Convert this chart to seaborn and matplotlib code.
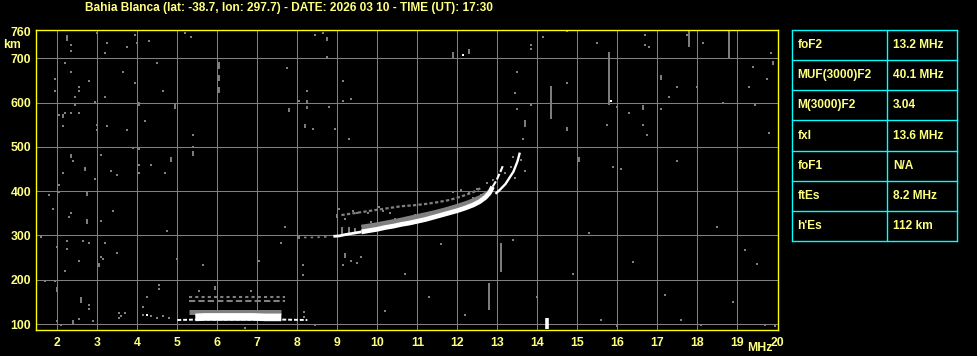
import matplotlib
matplotlib.use("Agg")
import matplotlib.pyplot as plt
import seaborn as sns
import pandas as pd

# ---------------- data ----------------
title = "Bahia Blanca (lat: -38.7, lon: 297.7) - DATE: 2026 03 10 - TIME (UT): 17:30"
x_ticks = list(range(2, 21))
y_ticks = [100, 200, 300, 400, 500, 600, 700, 760]

param_names = ["foF2", "MUF(3000)F2", "M(3000)F2", "fxl", "foF1", "ftEs", "h'Es"]
param_values = ["13.2 MHz", "40.1 MHz", "3.04", "13.6 MHz", "N/A", "8.2 MHz", "112 km"]

# F-layer main (white) trace
f_trace_f = [8.9, 9.05, 9.2, 9.4, 9.6, 9.8, 10.0, 10.2, 10.4, 10.6, 10.8, 11.0,
             11.2, 11.4, 11.6, 11.8, 12.0, 12.2, 12.4, 12.55, 12.7, 12.8, 12.88]
f_trace_h = [298, 299, 302, 305, 308, 311, 314, 318, 321, 325, 328, 332,
             336, 341, 346, 351, 356, 362, 369, 376, 386, 396, 410]
# upper white branches near the critical frequency
f_branch_a_f = [12.88, 12.98, 13.08, 13.14]
f_branch_a_h = [410, 425, 445, 458]
f_branch_b_f = [12.95, 13.05, 13.2, 13.3, 13.4, 13.5, 13.56]
f_branch_b_h = [394, 402, 416, 430, 444, 467, 487]
# grey band just above the white trace
f_grey_f = [9.6, 9.9, 10.2, 10.5, 10.8, 11.1, 11.4, 11.7, 12.0, 12.3, 12.6, 12.8]
f_grey_h = [318, 322, 327, 332, 338, 344, 350, 357, 365, 374, 386, 397]
# grey dotted upper trace
f_upper_f = [9.1, 9.4, 9.7, 10.0, 10.3, 10.6, 10.9, 11.2, 11.5, 11.8, 12.1, 12.4, 12.6]
f_upper_h = [346, 350, 354, 358, 362, 366, 368, 371, 375, 380, 388, 398, 408]
# faint grey trace at ~297 km
f_faint_f = [8.0, 8.1, 8.27, 8.45, 8.6, 8.75]
f_faint_h = [297, 296, 295, 296, 296, 297]

# Es layer
es_core_f = [5.45, 5.7, 6.0, 6.3, 6.6, 6.9, 7.2, 7.6]
es_core_h = [115, 116, 116, 116, 116, 116, 115, 115]
es_tail_f = [5.0, 5.45, 7.6, 8.25]
es_tail_h = [109, 110, 110, 109]
es_grey_f = [5.3, 5.6, 6.0, 6.5, 7.0, 7.6]
es_grey_h = [127, 127, 127, 127, 127, 127]
es_dash1_f = [5.3, 7.7]
es_dash1_h = [151, 151]
es_dash2_f = [5.3, 7.7]
es_dash2_h = [161, 161]

# scattered grey noise dots (frequency MHz, height km)
noise_f = [2.23, 2.33, 2.33, 3.0, 3.24, 3.19, 3.73, 3.94, 3.98, 4.28, 5.19, 5.33, 2.19, 2.33,
           1.94, 1.94, 2.53, 2.53, 2.44, 2.44, 2.8, 3.19, 2.94, 3.63, 3.94, 4.48, 4.63, 2.03,
           2.19, 2.33, 2.53, 2.13, 2.98, 2.98, 3.24, 3.73, 4.19, 5.38, 5.38, 3.88, 4.03, 2.38,
           3.1, 4.03, 4.33, 2.69, 7.73, 8.44, 8.63, 8.73, 8.23, 8.03, 8.39, 8.78, 8.94, 9.13,
           9.13, 9.33, 9.28,
           13.83, 13.83, 14.13, 14.73, 15.48, 16.69, 16.69, 16.79, 18.13, 19.84, 19.38, 19.74,
           19.28, 19.43, 18.63, 17.98, 17.48, 17.28, 17.08, 16.28, 16.63, 16.73, 15.73, 15.98,
           14.73, 13.49, 13.44, 13.49, 13.83, 13.63, 15.88, 16.08, 17.48, 19.79, 13.38, 17.73,
           2.38, 2.13, 2.03, 2.03, 1.78, 1.88, 2.33, 2.28, 2.94, 3.08, 3.34, 3.48, 3.38, 4.03,
           4.03, 4.33, 4.69, 4.83, 4.73, 1.58, 2.23, 1.98, 2.23, 2.63, 2.78, 3.18, 3.48, 3.08,
           3.13, 2.53, 2.18, 4.98, 5.63, 7.03, 7.58, 7.68, 8.13, 8.13, 1.68, 1.93, 2.78,
           2.78, 4.53, 4.53, 4.23, 4.13, 5.53, 6.83, 9.33, 9.13, 9.48, 9.58, 9.03, 8.98, 8.98,
           9.18, 9.38, 9.48, 9.77, 10.03, 10.13, 10.32,
           2.0, 2.09, 2.53, 2.88, 3.53, 3.6, 3.7, 3.55, 4.13, 4.15, 4.35, 4.5, 4.65, 4.8, 8.43,
           6.69, 8.17, 8.17,
           15.6, 16.0, 17.2, 17.6, 18.1, 18.9, 19.2, 19.5, 19.7, 19.95, 14.9, 15.3, 16.4, 18.5,
           11.6, 10.7, 11.3, 12.2, 10.2, 13.4, 14.0,
           11.9, 12.1, 12.3, 12.5, 12.75, 12.9, 13.2, 13.35, 13.45, 13.6, 13.7, 12.6, 12.4,
           9.85, 10.45, 10.95, 11.35, 11.75]
noise_h = [746, 731, 717, 758, 735, 713, 726, 753, 735, 740, 758, 749, 690, 670,
           654, 627, 636, 627, 613, 595, 649, 613, 602, 668, 645, 690, 627, 573,
           577, 577, 577, 546, 550, 537, 546, 537, 559, 527, 500, 497, 496, 469,
           481, 459, 459, 451, 677, 753, 758, 704, 627, 604, 541, 591, 541, 649,
           604, 609, 518,
           731, 722, 749, 762, 735, 753, 731, 726, 735, 713, 681, 654,
           636, 595, 600, 636, 636, 613, 586, 577, 550, 527, 550, 591,
           645, 668, 622, 586, 595, 518, 455, 451, 469, 532, 478, 753,
           469, 442, 415, 397, 392, 360, 351, 342, 428, 333, 446, 437, 356, 460,
           442, 460, 442, 469, 311, 297, 288, 275, 270, 288, 284, 284, 261, 252,
           247, 243, 220, 247, 234, 243, 284, 320, 234, 211, 198, 198, 144,
           135, 189, 180, 162, 139, 175, 175, 243, 234, 238, 252, 360, 347, 342,
           338, 356, 351, 350, 365, 356, 351,
           107, 98, 111, 107, 126, 118, 126, 113, 139, 120, 118, 113, 118, 113, 98,
           90, 128, 116,
           109, 96, 165, 110, 98, 150, 267, 235, 98, 95, 214, 305, 240, 320,
           280, 214, 160, 120, 130, 290, 160,
           398, 402, 395, 405, 418, 425, 440, 455, 430, 470, 445, 392, 385,
           331, 338, 346, 352, 360]

# short vertical grey streaks (frequency, low km, high km)
bar_f = [2.23, 2.13, 4.03, 4.94, 5.38, 2.33, 4.83, 6.03, 6.03, 6.03, 8.73, 8.23, 8.23,
         7.79, 8.19, 11.88, 12.29, 17.78, 18.79, 19.89, 17.08, 16.63, 15.78, 14.33, 14.73,
         13.69, 15.03, 2.69, 2.73, 2.73, 3.03, 1.98, 2.58, 5.93, 9.18, 8.03, 2.38, 13.08,
         12.78, 9.12, 9.3, 9.45]
bar_lo = [740, 565, 592, 586, 480, 474, 465, 675, 648, 622, 738, 598, 585,
          578, 542, 700, 710, 725, 700, 684, 652, 584, 594, 562, 535,
          545, 466, 445, 390, 326, 228, 172, 148, 176, 250, 293, 100, 217,
          132, 302, 304, 306]
bar_hi = [752, 575, 602, 597, 490, 484, 476, 692, 662, 636, 748, 606, 593,
          588, 552, 714, 720, 764, 764, 694, 662, 594, 714, 637, 545,
          560, 476, 455, 400, 336, 238, 184, 160, 186, 260, 302, 108, 283,
          192, 318, 320, 316]

# white noise dots and streak
white_f = [12.13, 15.83, 4.23]
white_h = [708, 604, 120]
white_bar_f = [14.25]
white_bar_lo = [88]
white_bar_hi = [114]

# ---------------- style ----------------
sns.set_style("dark", {"axes.facecolor": "black", "figure.facecolor": "black"})
plt.rcParams['font.family'] = ['Liberation Sans', 'DejaVu Sans']

TXT = "#FFFF80"
GREY = "#808080"
W, H = 978, 356
fig = plt.figure(figsize=(W / 100, H / 100), dpi=100, facecolor="black")
ax = fig.add_axes([35.7 / W, 26 / H, (778.3 - 35.7) / W, 300.5 / H])
ax.set_facecolor("black")


def band(xs, ys, color, lw, ls="-"):
    sns.lineplot(x=xs, y=ys, ax=ax, color=color, linewidth=lw, sort=False,
                 estimator=None, linestyle=ls, solid_capstyle="butt", zorder=3)


band(f_upper_f, f_upper_h, GREY, 1.6, (0, (1.5, 1.0)))
band(f_grey_f, f_grey_h, GREY, 4.0)
band(f_trace_f[:5], f_trace_h[:5], "white", 2.0)
band(f_trace_f[4:], f_trace_h[4:], "white", 3.4)
band(f_branch_a_f, f_branch_a_h, "white", 1.5, (0, (3, 1)))
band(f_branch_b_f, f_branch_b_h, "white", 1.7)
band(f_faint_f, f_faint_h, GREY, 1.2, (0, (1.5, 2.5)))
band(es_dash1_f, es_dash1_h, GREY, 1.5, (0, (3, 1.5)))
band(es_dash2_f, es_dash2_h, GREY, 1.5, (0, (1.5, 1.5)))
band(es_grey_f, es_grey_h, GREY, 3.6)
band(es_tail_f, es_tail_h, "white", 1.4, (0, (2, 1)))
band(es_core_f, es_core_h, "white", 5.5)

ax.vlines(bar_f, bar_lo, bar_hi, color=GREY, linewidth=1.4, zorder=2)
ax.vlines(white_bar_f, white_bar_lo, white_bar_hi, color="white", linewidth=2.6, zorder=3)
sns.scatterplot(x=noise_f, y=noise_h, ax=ax, marker="s", s=2.6, color=GREY,
                linewidth=0, zorder=2)
sns.scatterplot(x=white_f, y=white_h, ax=ax, marker="s", s=2.6, color="white",
                linewidth=0, zorder=3)

ax.set_xlim(1.46, 20.02)
ax.set_ylim(86.5, 765)
ax.set_xticks(x_ticks)
ax.set_yticks(y_ticks)
ax.set_xticklabels([str(v) for v in x_ticks])
ax.set_yticklabels([str(v) for v in y_ticks])
ax.set_xlabel("")
ax.set_ylabel("")
ax.set_axisbelow(True)
ax.grid(True, color=GREY, linewidth=0.75)
ax.get_ygridlines()[-1].set_visible(False)
ax.get_xgridlines()[-1].set_visible(False)
ax.tick_params(axis="both", length=0, colors=TXT, labelsize=8.8)
ax.tick_params(axis="x", pad=5.3)
ax.tick_params(axis="y", pad=3.3)
for lab in ax.get_xticklabels() + ax.get_yticklabels():
    lab.set_fontweight("bold")
for sp in ax.spines.values():
    sp.set_visible(True)
    sp.set_color("#FFFF00")
    sp.set_linewidth(1.0)

fig.text(289 / W, 1 - 7.5 / H, title, color=TXT, fontsize=8.6, fontweight="bold",
         ha="center", va="center")
fig.text(12.3 / W, 1 - 45.5 / H, "km", color=TXT, fontsize=8.8, fontweight="bold",
         ha="center", va="center")
fig.text(760 / W, 1 - 348 / H, "MHz", color=TXT, fontsize=8.8, fontweight="bold",
         ha="center", va="center")

# parameter table
tab = fig.add_axes([792 / W, (H - 241) / H, (957 - 792) / W, 211 / H])
tab.set_xlim(0, 165)
tab.set_ylim(211, 0)
tab.axis("off")
rows = len(param_names)
rh = 211 / rows
CY = "#00FFFF"
for i in range(rows + 1):
    tab.plot([0, 165], [i * rh, i * rh], color=CY, linewidth=1.0, clip_on=False,
             solid_capstyle="projecting")
for xv in (0, 95, 165):
    tab.plot([xv, xv], [0, 211], color=CY, linewidth=1.0, clip_on=False)
for i, (nm, vl) in enumerate(zip(param_names, param_values)):
    yc = (i + 0.5) * rh
    tab.text(5.3, yc, nm, color=TXT, fontsize=8.6, fontweight="bold", ha="left", va="center")
    tab.text(101, yc, vl, color=TXT, fontsize=8.6, fontweight="bold", ha="left", va="center")

fig.savefig("out.png", dpi=100, facecolor="black")
